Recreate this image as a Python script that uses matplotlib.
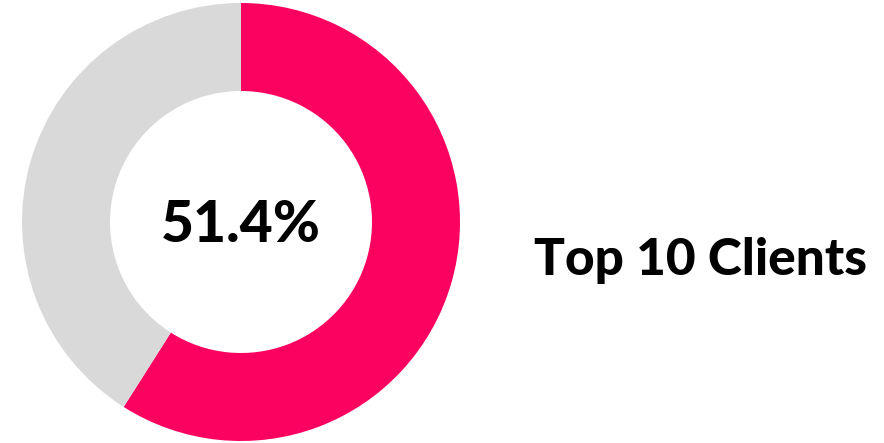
import matplotlib
matplotlib.use("Agg")
import matplotlib.pyplot as plt

labels = ["Top 10 Clients", "Others"]
values = [59.0, 41.0]
colors = ["#FB0160", "#D9D9D9"]
center_label = "51.4%"
title = "Top 10 Clients"

W, H = 884, 443
fig = plt.figure(figsize=(W / 100, H / 100), dpi=100)
cx, cy, R = 241, 222, 219
ax = fig.add_axes([(cx - R) / W, (H - cy - R) / H, 2 * R / W, 2 * R / H])
ax.pie(values, colors=colors, startangle=90, counterclock=False,
       wedgeprops=dict(width=88 / 219, linewidth=0), radius=1.0)
ax.set_xlim(-1, 1)
ax.set_ylim(-1, 1)
ax.set_aspect("equal")
ax.axis("off")
fig.text(cx / W, 1 - 242 / H, center_label, ha="center", va="baseline", fontsize=41,
         fontweight=900, family=["Lato", "DejaVu Sans"], color="#000000")

fig.text(700 / W, 1 - 275 / H, title, ha="center", va="baseline", fontsize=37,
         fontweight=900, family=["Lato", "DejaVu Sans"], color="#000000")

fig.savefig("out.png", dpi=100)
